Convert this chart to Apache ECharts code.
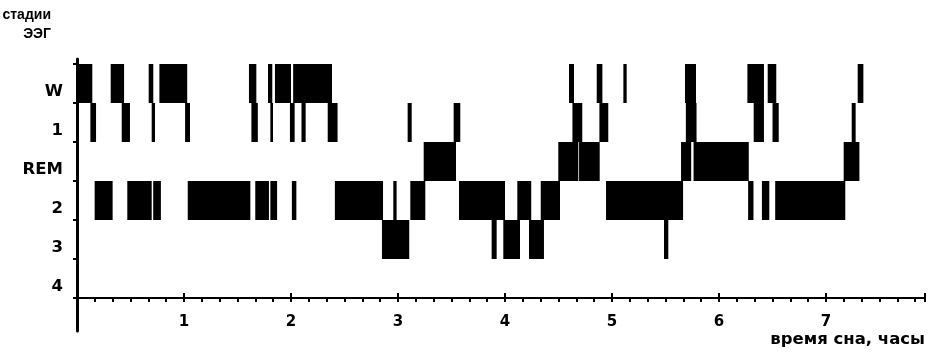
<!DOCTYPE html>
<html><head><meta charset="utf-8">
<script src="https://cdn.jsdelivr.net/npm/echarts@6/dist/echarts.min.js"></script>
<style>html,body{margin:0;padding:0;background:#fff}#c{width:928px;height:356px}</style>
</head><body><div id="c"></div>
<script>
// Stage categories (top to bottom)
const stages = ['W', '1', 'REM', '2', '3', '4'];
// Hour tick labels
const hourTicks = [1, 2, 3, 4, 5, 6, 7];
// Segments [startHour, endHour] per stage
const wakeSegments = [[0, 0.143], [0.315, 0.44], [0.67, 0.713], [0.77, 1.03], [1.607, 1.676], [1.785, 1.825], [1.85, 2.0], [2.02, 2.383], [4.598, 4.645], [4.857, 4.91], [5.106, 5.137], [5.682, 5.785], [6.265, 6.42], [6.455, 6.535], [7.296, 7.349]];
const stage1Segments = [[0.125, 0.178], [0.418, 0.495], [0.698, 0.729], [1.01, 1.056], [1.63, 1.69], [1.807, 1.832], [1.99, 2.034], [2.098, 2.137], [2.343, 2.435], [3.09, 3.128], [3.52, 3.582], [4.63, 4.722], [4.882, 4.965], [5.69, 5.79], [6.324, 6.42], [6.5, 6.558], [7.24, 7.277]];
const remSegments = [[3.24, 3.542], [4.498, 4.685], [4.692, 4.885], [5.645, 5.74], [5.762, 6.278], [7.165, 7.312]];
const stage2Segments = [[0.165, 0.333], [0.47, 0.698], [0.712, 0.784], [1.035, 1.62], [1.666, 1.794], [1.807, 1.87], [2.008, 2.05], [2.41, 2.86], [2.956, 2.987], [3.115, 3.255], [3.57, 4.0], [4.115, 4.245], [4.334, 4.514], [4.944, 5.664], [6.272, 6.322], [6.401, 6.47], [6.525, 7.18]];
const stage3Segments = [[2.85, 3.105], [3.875, 3.922], [3.984, 4.14], [4.224, 4.364], [5.486, 5.526]];
const stage4Segments = [];

const allSegments = [wakeSegments, stage1Segments, remSegments, stage2Segments, stage3Segments, stage4Segments];
const data = [];
allSegments.forEach((segs, si) => segs.forEach(s => data.push([s[0], s[1], si])));

const FONT = 'DejaVu Sans, sans-serif';
const FONT2 = 'Liberation Sans, Arial, sans-serif';
const chart = echarts.init(document.getElementById('c'));
chart.setOption({
  animation: false,
  backgroundColor: '#fff',
  title: {
    text: 'стадии\nЭЭГ', left: 51, top: 6, textAlign: 'right', textVerticalAlign: 'top', padding: 0,
    textStyle: { fontFamily: FONT2, fontSize: 14, fontWeight: 'bold', color: '#000', lineHeight: 19 }
  },
  grid: [
    { left: 77, top: 64, width: 848, height: 234 },
    { left: 77, top: 59, width: 848, height: 272 }
  ],
  xAxis: [
    {
      gridIndex: 0, type: 'value', min: 0, max: 7.925, interval: 1, position: 'bottom',
      axisLine: { show: true, lineStyle: { color: '#000', width: 2 } },
      axisTick: { show: true, inside: true, length: 5, lineStyle: { color: '#000', width: 2 } },
      axisLabel: {
        margin: 17, color: '#000', fontFamily: FONT, fontSize: 15, fontWeight: 'bold',
        formatter: v => hourTicks.indexOf(v) >= 0 ? String(v) : ''
      },
      splitLine: { show: false },
      name: 'время сна, часы', nameLocation: 'end', nameGap: 0,
      nameTextStyle: { fontFamily: FONT, fontSize: 16.5, fontWeight: 'bold', color: '#000', align: 'right', verticalAlign: 'top', padding: [33, 0, 0, 0] }
    },
    {
      gridIndex: 0, type: 'value', min: 0, max: 7.925, interval: 1 / 6, position: 'bottom',
      axisLine: { show: false },
      axisTick: { show: true, inside: false, length: 4, lineStyle: { color: '#000', width: 2 } },
      axisLabel: { show: false }, splitLine: { show: false }
    },
    { gridIndex: 1, type: 'value', show: false, min: 0, max: 1 }
  ],
  yAxis: [
    {
      gridIndex: 0, type: 'category', data: stages, inverse: true,
      axisLine: { show: false },
      axisTick: { show: true, length: 4, lineStyle: { color: '#000', width: 2 } },
      axisLabel: { margin: 14, color: '#000', fontFamily: FONT, fontSize: 16.5, fontWeight: 'bold', verticalAlign: 'top', lineHeight: 17 },
      splitLine: { show: false }
    },
    {
      gridIndex: 1, type: 'value', min: 0, max: 1,
      axisLine: { show: true, lineStyle: { color: '#000', width: 3 } },
      axisTick: { show: false }, axisLabel: { show: false }, splitLine: { show: false }
    }
  ],
  series: [{
    type: 'custom',
    xAxisIndex: 0, yAxisIndex: 0,
    data: data,
    encode: { x: [0, 1], y: 2 },
    renderItem: function (params, api) {
      const yi = api.value(2);
      const s = api.coord([api.value(0), yi]);
      const e = api.coord([api.value(1), yi]);
      const h = api.size([0, 1])[1];
      return {
        type: 'rect',
        shape: { x: s[0], y: s[1] - h / 2, width: Math.max(e[0] - s[0], 1.5), height: h },
        style: { fill: '#000' }
      };
    }
  }]
});
</script></body></html>
